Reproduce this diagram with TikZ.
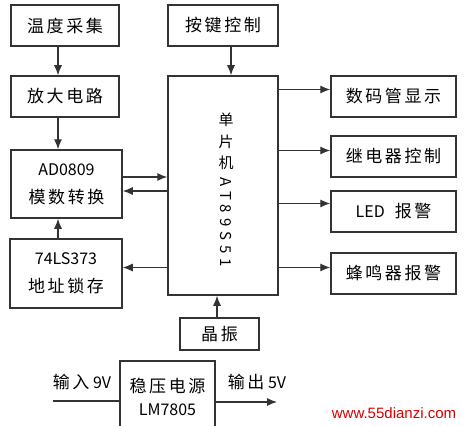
\documentclass[tikz,border=0pt]{standalone}
\usepackage{fontspec}
\setmainfont{Noto Sans CJK SC}
\newfontfamily\wmfont{Liberation Sans}
\usetikzlibrary{arrows.meta}
% 汉字加宽字距
\makeatletter
\newcommand\kuanzi[1]{\kuanzi@a#1\relax}
\def\kuanzi@a#1{\ifx#1\relax\unkern\else#1\kern2.6pt\expandafter\kuanzi@a\fi}
\makeatother
\newcommand\zh[1]{{\fontsize{17}{28}\selectfont\kuanzi{#1}}}

\begin{document}
\begin{tikzpicture}[x=1pt, y=-1pt, >={Latex[length=10pt, width=8pt]},
    kuang/.style={draw=black!80, line width=1.5pt, minimum height=41pt, inner sep=2pt,
        align=center, font=\fontsize{16}{28}\selectfont},
    xian/.style={draw=black!80, line width=1.1pt},
    jiantou/.style={xian, ->}]
    % 画布
    \clip (0,0) rectangle (465,425);
    \fill[white] (0,0) rectangle (465,425);

    % 左边一列
    \node[kuang, minimum width=108pt] (wdcj) at (65,25.5) {\zh{温度采集}};
    \node[kuang, minimum width=108pt] (fddl) at (65,96.5) {\zh{放大电路}};
    \node[kuang, minimum width=111pt, minimum height=68pt] (adzh) at (66.5,184) {AD0809\\\zh{模数转换}};
    \node[kuang, minimum width=112pt, minimum height=69pt] (sczc) at (66,273.5) {74LS373\\\zh{地址锁存}};

    % 单片机
    \node[kuang, minimum width=110pt, minimum height=219pt] (mcu) at (223,185.5) {};
    \node[font=\fontsize{15}{21.5}\selectfont, align=center, inner sep=0pt] (mcuzi) at (226,141.5) {单\\片\\机};
    \foreach \c [count=\i] in {A,T,8,9,S,5,1}
        \node[rotate=-90, font=\fontsize{15}{15}\selectfont, inner sep=0pt] (mcu\i) at (226,168.5+13.5*\i) {\c};
    \node[kuang, minimum width=110pt] (ajkz) at (223,25.5) {\zh{按键控制}};
    \node[kuang, minimum width=79pt, minimum height=32pt] (jz) at (219.5,334) {\zh{晶振}};

    % 右边一列
    \node[kuang, minimum width=125pt] (smg) at (393.5,96.5) {\zh{数码管显示}};
    \node[kuang, minimum width=125pt] (jdq) at (393.5,156.5) {\zh{继电器控制}};
    \node[kuang, minimum width=125pt] (led) at (393.5,211.5) {LED\hspace{10pt}\zh{报警}};
    \node[kuang, minimum width=125pt] (fmq) at (393.5,273.5) {\zh{蜂鸣器报警}};

    % 电源
    \node[kuang, minimum width=95pt, minimum height=72pt] (wy) at (167.5,397) {\zh{稳压电源}\\[-5pt]LM7805};
    \node[font=\fontsize{16}{20}\selectfont] (lin) at (82,382) {\zh{输入} 9V};
    \node[font=\fontsize{16}{20}\selectfont] (lout) at (257,382) {\zh{输出} 5V};

    % 连线
    \coordinate (zuo) at (58,0);
    \draw[jiantou] (zuo |- wdcj.south) -- (zuo |- fddl.north);
    \draw[jiantou] (zuo |- fddl.south) -- (zuo |- adzh.north);
    \draw[jiantou] (zuo |- sczc.north) -- (zuo |- adzh.south);
    \coordinate (ad1) at ([yshift=7pt]adzh.east);
    \coordinate (ad2) at ([yshift=-7pt]adzh.east);
    \draw[jiantou] (ad1) -- (ad1 -| mcu.west);
    \draw[jiantou] (ad2 -| mcu.west) -- (ad2);
    \coordinate (sc) at ([yshift=6pt]sczc.east);
    \draw[jiantou] (sc -| mcu.west) -- (sc);
    \coordinate (ak) at ([xshift=8pt]ajkz.south);
    \draw[jiantou] (ak) -- (ak |- mcu.north);
    \coordinate (jzs) at ([xshift=-2.5pt]jz.north);
    \draw[jiantou] (jzs) -- (jzs |- mcu.south);
    \foreach \n/\d in {smg/7, jdq/6, led/8, fmq/6} {
        \coordinate (\n-r) at ([yshift=\d pt]\n.west);
        \draw[jiantou] (mcu.east |- \n-r) -- (\n-r);
    }
    \coordinate (vin) at (53,401);
    \coordinate (vout) at (277,402);
    \draw[xian] (vin) -- (vin -| wy.west);
    \draw[jiantou] (wy.east |- vout) -- (vout);

    % 水印
    \node[text=red!85!black, font=\wmfont\fontsize{15}{15}\selectfont] (wm) at (394,413) {www.55dianzi.com};
\end{tikzpicture}
\end{document}
